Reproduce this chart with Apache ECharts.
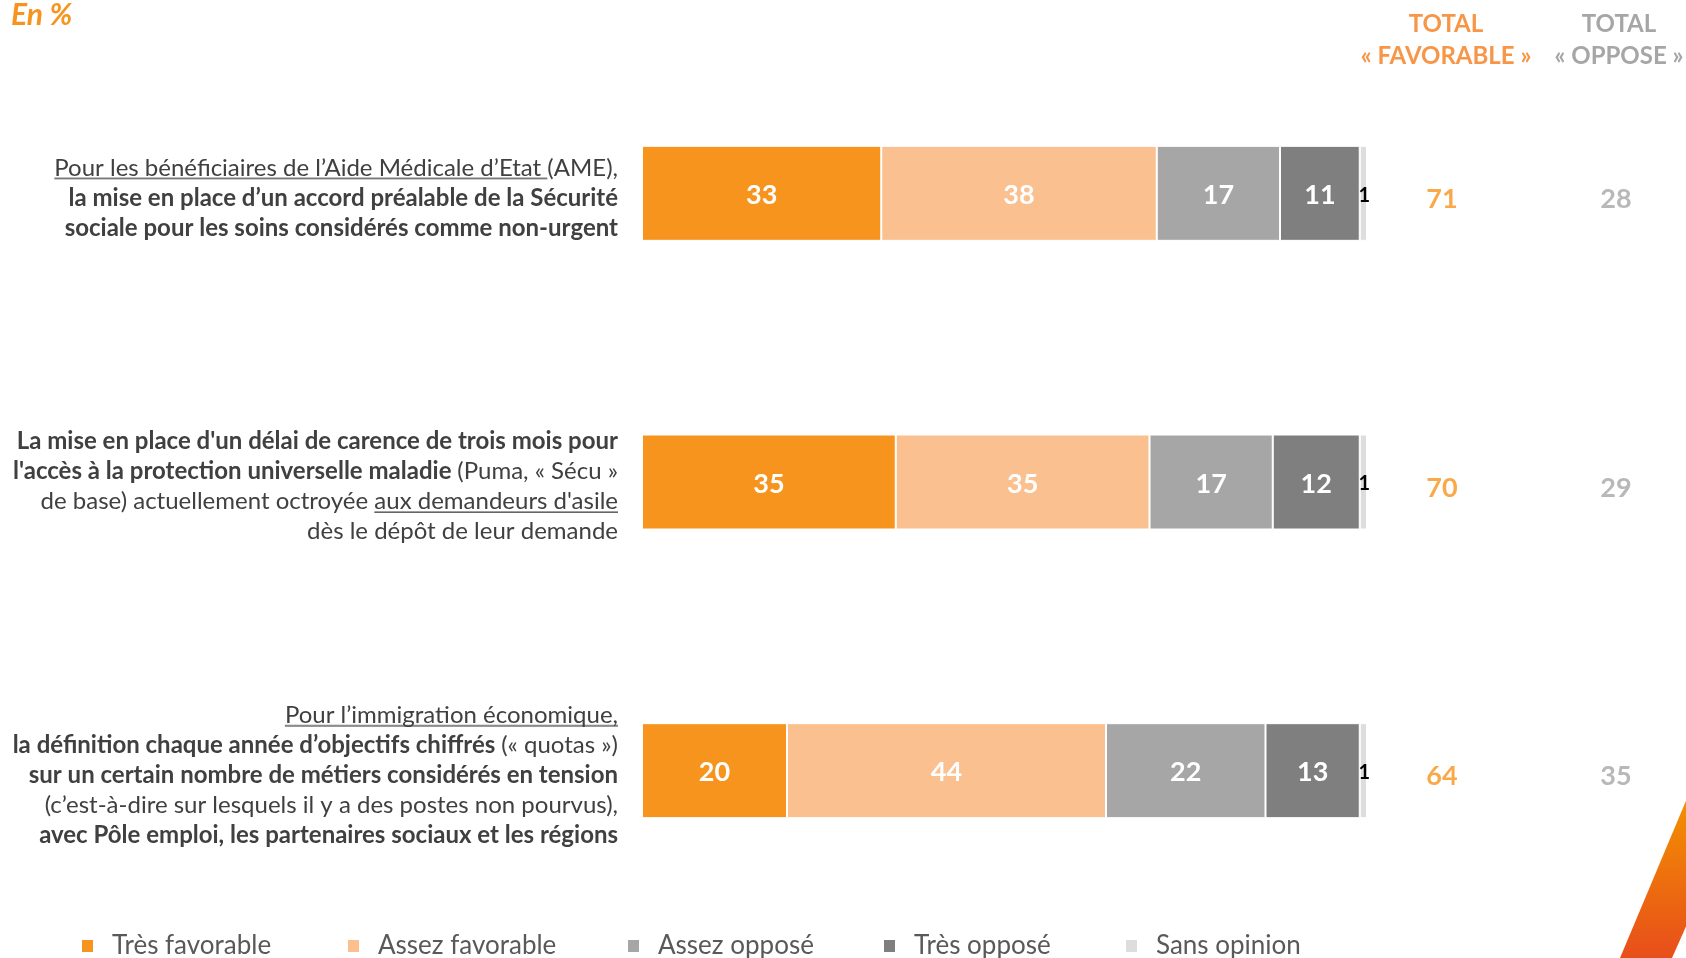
<!DOCTYPE html>
<html><head><meta charset="utf-8">
<script src="https://cdn.jsdelivr.net/npm/echarts@6/dist/echarts.min.js"></script>
<style>html,body{margin:0;padding:0;background:#fff}#c{width:1686px;height:958px}</style>
</head><body><div id="c"></div>
<script>
// ---------- DATA ----------
const categories = [
  "{u|Pour les bénéficiaires de l’Aide Médicale d’Etat }{n|(AME),}\n{b|la mise en place d’un accord préalable de la Sécurité}\n{b|sociale pour les soins considérés comme non-urgent}",
  "{b|La mise en place d'un délai de carence de trois mois pour}\n{b|l'accès à la protection universelle maladie }{n|(Puma, « Sécu »}\n{n|de base) actuellement octroyée }{u|aux demandeurs d'asile}\n{n|dès le dépôt de leur demande}",
  "{u|Pour l’immigration économique,}\n{b|la définition chaque année d’objectifs chiffrés }{n|(« quotas »)}\n{b|sur un certain nombre de métiers considérés en tension}\n{n|(c’est-à-dire sur lesquels il y a des postes non pourvus),}\n{b|avec Pôle emploi, les partenaires sociaux et les régions}"
];
const seriesNames = ['Très favorable', 'Assez favorable', 'Assez opposé', 'Très opposé', 'Sans opinion'];
const tresFavorable  = [33, 35, 20];
const assezFavorable = [38, 35, 44];
const assezOppose    = [17, 17, 22];
const tresOppose     = [11, 12, 13];
const sansOpinion    = [1, 1, 1];
const totalFavorable = [71, 70, 64];
const totalOppose    = [28, 29, 35];
const totalHeaders   = ['TOTAL\n« FAVORABLE »', 'TOTAL\n« OPPOSE »'];
const unitLabel      = 'En %';

// ---------- STYLE / LAYOUT ----------
const FONT = 'Lato, "Open Sans", sans-serif';
const colors = ['#F7941D', '#FAC090', '#A6A6A6', '#7F7F7F', '#DDDDDD'];
const ORANGE = '#F7941D', GREY = '#A6A6A6', TXT = '#404040';
const legendLefts = [80, 346, 626, 882, 1124];

const LABEL_FS = 24, LH = 30, UL_H = 25;
function underlineImg() {
  const c = document.createElement('canvas');
  c.width = 4; c.height = UL_H;
  const g = c.getContext('2d');
  g.fillStyle = TXT;
  g.fillRect(0, UL_H - 2.5, 4, 1.3);
  return c;
}
const ul = underlineImg();

const serieValues = [tresFavorable, assezFavorable, assezOppose, tresOppose, sansOpinion];
const barSeries = serieValues.map((vals, i) => ({
  name: seriesNames[i],
  type: 'bar',
  stack: 'all',
  barWidth: 95,
  data: vals,
  itemStyle: { color: colors[i], borderColor: '#fff', borderWidth: 1 },
  label: i < 4 ? {
    show: true, position: 'inside', offset: [0, 2], color: '#fff', fontWeight: 'bold', fontSize: 27, fontFamily: FONT
  } : {
    show: true, position: 'inside', offset: [1, 2], color: '#000', fontWeight: 'bold', fontSize: 20, fontFamily: FONT
  },
  emphasis: { disabled: true }
}));

const totalSeries = [totalFavorable, totalOppose].map((vals, k) => ({
  type: 'scatter',
  xAxisIndex: 1, yAxisIndex: 1,
  symbolSize: 1,
  clip: false,
  itemStyle: { color: 'transparent' },
  data: vals.map((v, i) => [k, i, v]),
  label: {
    show: true, position: 'inside', offset: [0, 6],
    formatter: p => p.value[2],
    color: k === 0 ? ORANGE : GREY, fontWeight: 'bold', fontSize: 27, fontFamily: FONT
  },
  emphasis: { disabled: true },
  silent: true
}));

const chart = echarts.init(document.getElementById('c'), null, { renderer: 'canvas' });
chart.setOption({
  animation: false,
  backgroundColor: '#fff',
  grid: [
    { left: 642, right: 319, top: 49, bottom: 43, outerBoundsMode: 'none' },
    { left: 1442, width: 174, top: 49, bottom: 43, outerBoundsMode: 'none' }
  ],
  xAxis: [
    { type: 'value', min: 0, max: 100, show: false },
    { type: 'value', min: 0, max: 1, show: false, gridIndex: 1 }
  ],
  yAxis: [
    {
      type: 'category', data: categories, inverse: true,
      axisLine: { show: false }, axisTick: { show: false }, splitLine: { show: false },
      axisLabel: {
        interval: 0, margin: 24, align: 'right', lineHeight: LH,
        padding: [9, 0, 0, 0],
        fontFamily: FONT, fontSize: LABEL_FS, color: TXT,
        rich: {
          n: { fontFamily: FONT, fontSize: LABEL_FS, color: TXT, lineHeight: LH, align: 'right' },
          b: { fontFamily: FONT, fontSize: LABEL_FS, color: TXT, fontWeight: 'bold', lineHeight: LH, align: 'right' },
          u: { fontFamily: FONT, fontSize: LABEL_FS, color: TXT, lineHeight: LH, height: UL_H, align: 'right',
               backgroundColor: { image: ul } }
        }
      }
    },
    { type: 'category', data: categories, inverse: true, show: false, gridIndex: 1 }
  ],
  legend: seriesNames.map((n, i) => ({
    data: [n], left: legendLefts[i], top: 931, padding: 0,
    icon: 'rect', itemWidth: 13, itemHeight: 14,
    selectedMode: false,
    textStyle: { fontFamily: FONT, fontSize: 26, color: '#595959', lineHeight: 30, padding: [0, 0, 0, 13] }
  })),
  series: barSeries.concat(totalSeries),
  graphic: [
    { type: 'text', left: 11, top: 0,
      style: { text: unitLabel, fontFamily: FONT, fontSize: 30, fontWeight: 'bold', fontStyle: 'italic', fill: ORANGE } },
    { type: 'text', x: 1446, y: 40,
      style: { text: totalHeaders[0], fontFamily: FONT, fontSize: 24, fontWeight: 'bold', fill: '#F79646',
               align: 'center', verticalAlign: 'middle', lineHeight: 32 } },
    { type: 'text', x: 1619, y: 40,
      style: { text: totalHeaders[1], fontFamily: FONT, fontSize: 24, fontWeight: 'bold', fill: GREY,
               align: 'center', verticalAlign: 'middle', lineHeight: 32 } },
    { type: 'polygon',
      shape: { points: [[1620, 958], [1688, 796], [1688, 922], [1672, 958]] },
      style: { fill: new echarts.graphic.LinearGradient(0, 0, 0, 1, [
        { offset: 0, color: '#F39200' }, { offset: 1, color: '#E84E1B' }]) } }
  ]
});
</script>
</body></html>
